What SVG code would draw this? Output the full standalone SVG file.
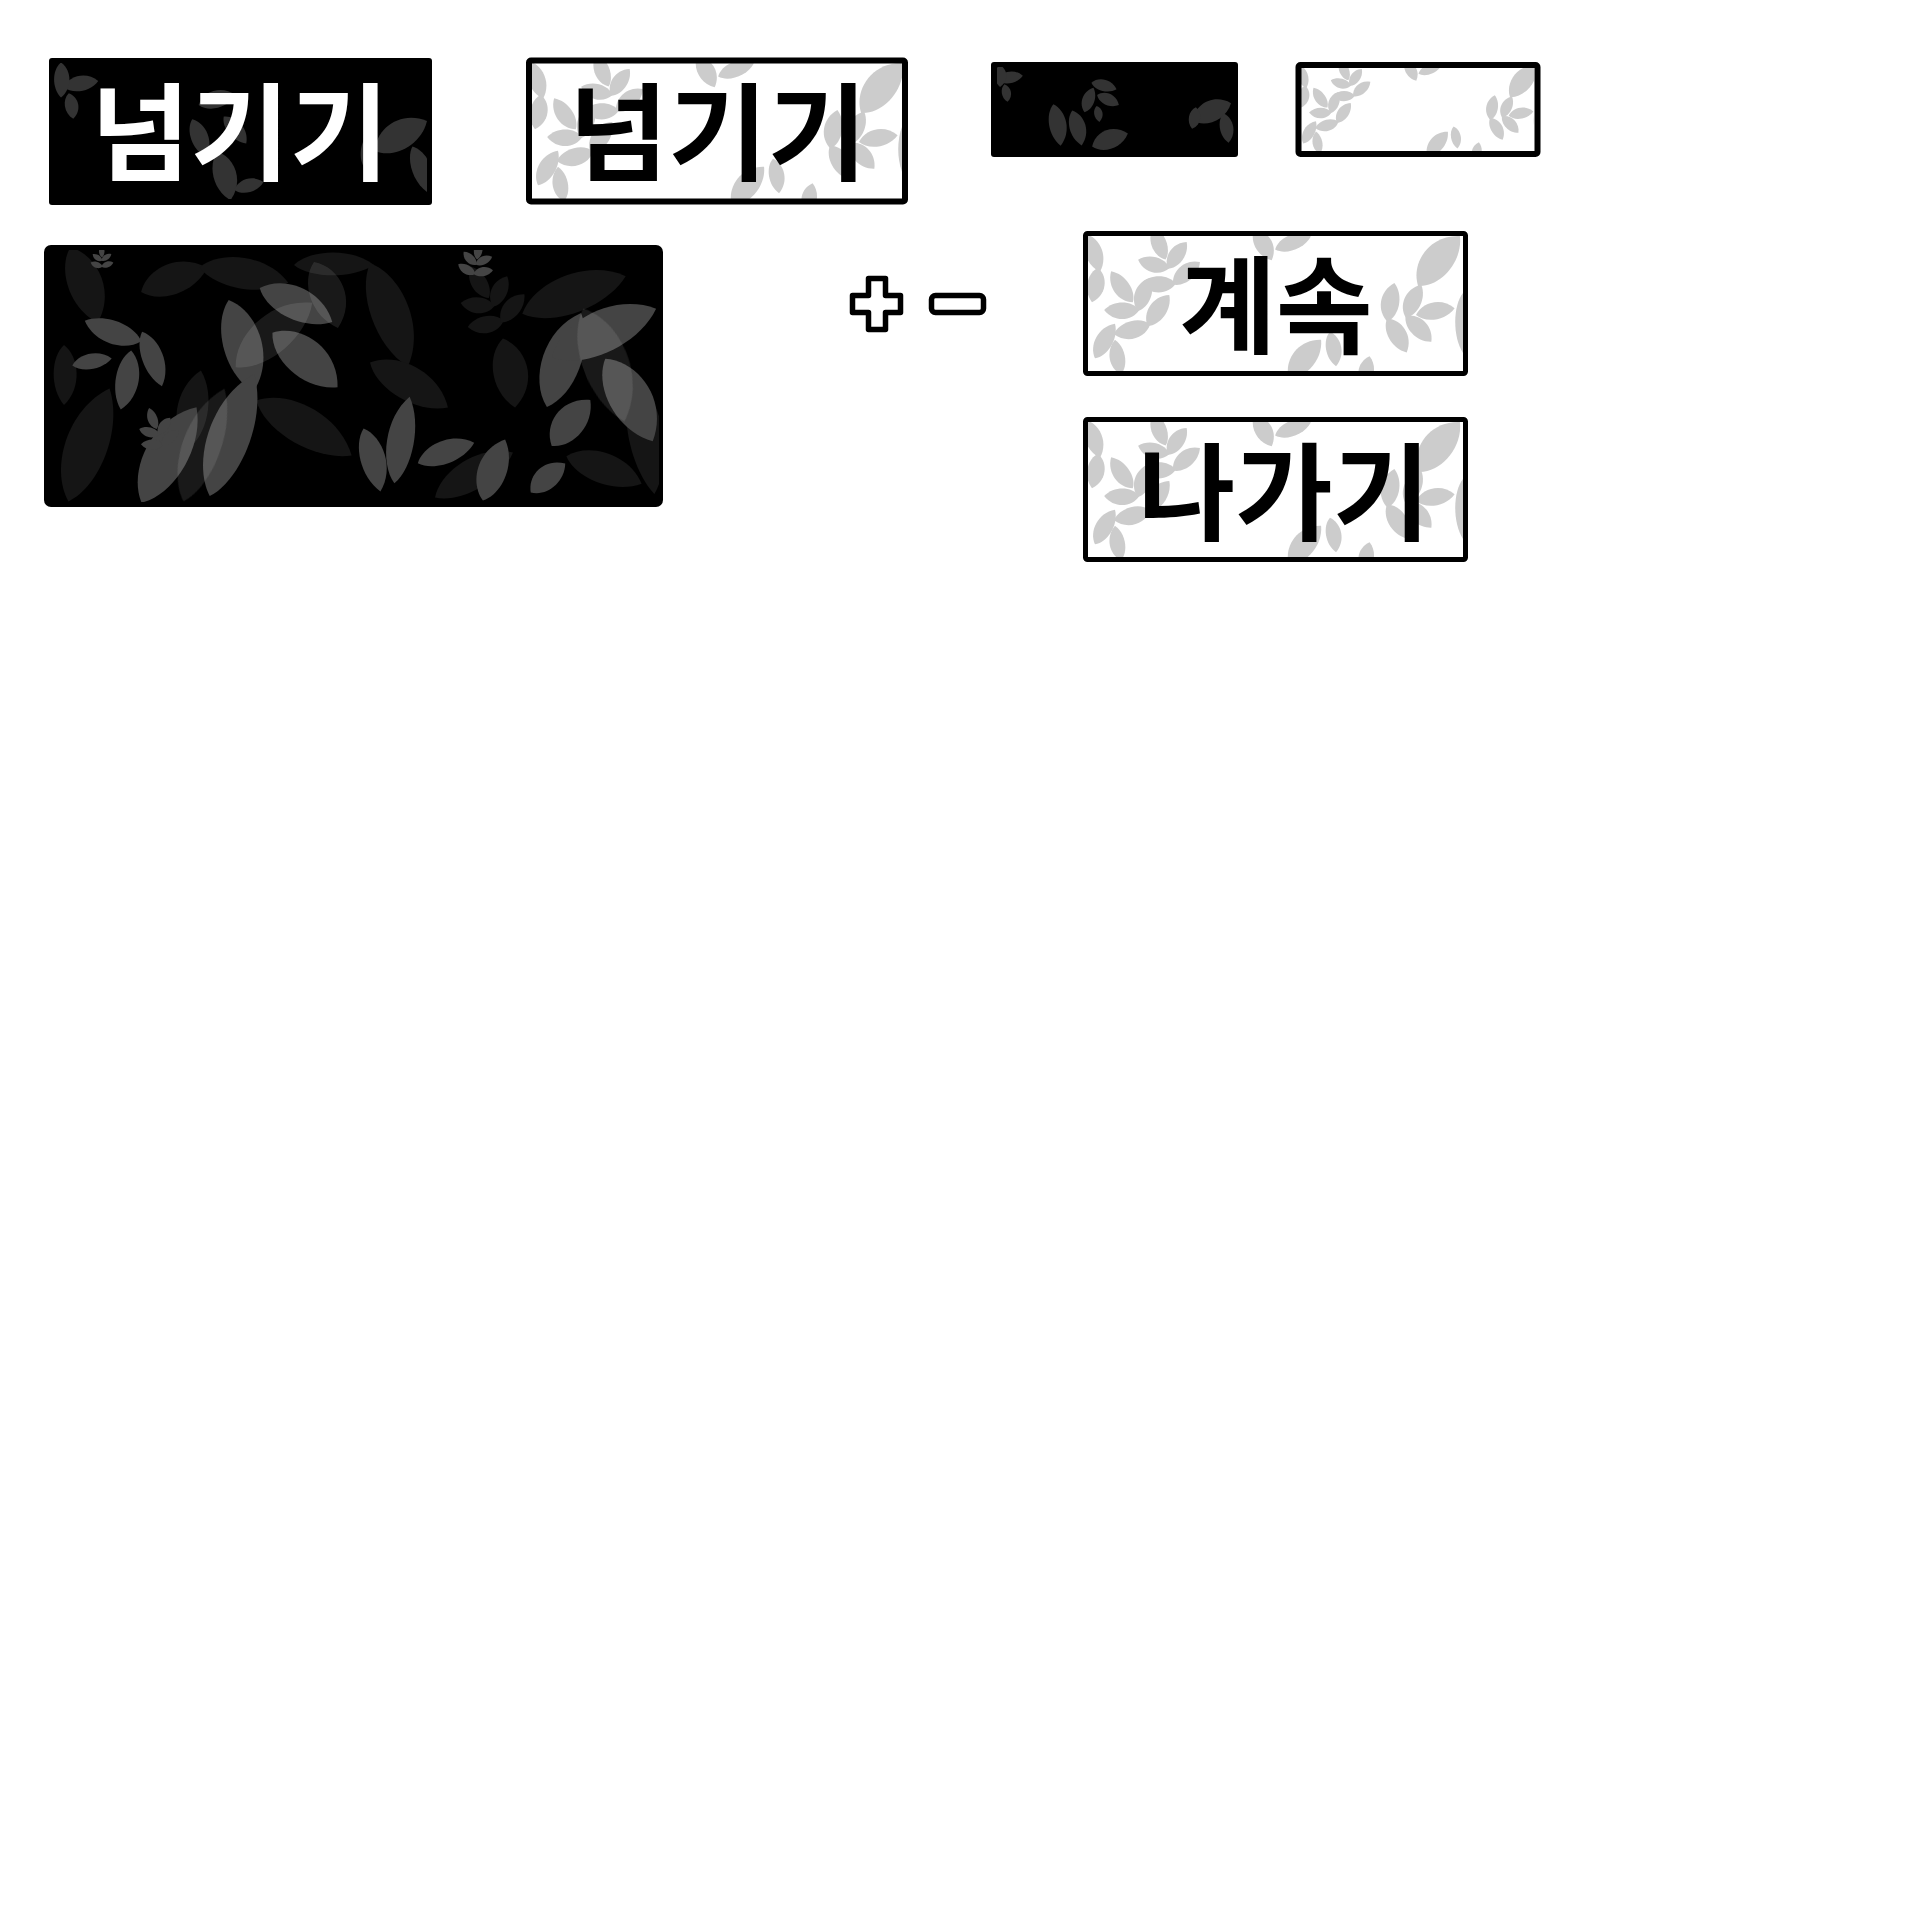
<svg xmlns="http://www.w3.org/2000/svg" width="1920" height="1920" viewBox="0 0 1920 1920">
<style>
.t{font-family:"Noto Sans CJK KR","Noto Sans CJK SC",sans-serif;font-weight:700;font-size:106px;text-anchor:middle}
.w{fill:#ffffff}
.k{fill:#000000}
.frame{fill:none;stroke:#000;stroke-width:6;stroke-linejoin:round}
.lg{fill:#cccccc}
.dg{fill:#333333}
.g4{fill:#444444}
.d1{fill:#151515}
.gh{fill:#ffffff;opacity:.1}
.icon{fill:#fff;stroke:#000;stroke-width:5.5;stroke-linejoin:round}
</style>
<defs>
<path id="lf" d="M-50,0 C-30,-26 22,-30 50,0 C22,24 -30,22 -50,0Z"/>
<g id="sp">
<use href="#lf" transform="translate(0,-22) rotate(-90) scale(.28,.32)"/>
<use href="#lf" transform="translate(-10,-8) rotate(-145) scale(.26,.32)"/>
<use href="#lf" transform="translate(10,-8) rotate(-35) scale(.26,.32)"/>
<use href="#lf" transform="translate(-12,8) rotate(-160) scale(.28,.34)"/>
<use href="#lf" transform="translate(12,8) rotate(-20) scale(.28,.34)"/>
</g>
<g id="wpat" class="lg">
<use href="#lf" transform="translate(10,22) rotate(70) scale(.4,.45)"/>
<use href="#lf" transform="translate(12,54) rotate(100) scale(.35,.45)"/>
<use href="#sp" transform="translate(86,38) rotate(-20) scale(1.25)"/>
<use href="#sp" transform="translate(56,80) rotate(-35) scale(1.35)"/>
<use href="#lf" transform="translate(22,110) rotate(-60) scale(.4,.45)"/>
<use href="#lf" transform="translate(35,126) rotate(-100) scale(.35,.4)"/>
<use href="#lf" transform="translate(180,14) rotate(60) scale(.35,.45)"/>
<use href="#lf" transform="translate(210,12) rotate(-20) scale(.38,.4)"/>
<use href="#lf" transform="translate(222,128) rotate(-50) scale(.5,.6)"/>
<use href="#lf" transform="translate(250,118) rotate(80) scale(.35,.4)"/>
<use href="#lf" transform="translate(284,140) rotate(-80) scale(.3,.4)"/>
<use href="#sp" transform="translate(322,86) rotate(80) scale(1.4)"/>
<use href="#lf" transform="translate(356,30) rotate(-50) scale(.65,.8)"/>
<use href="#lf" transform="translate(380,92) rotate(90) scale(.6,.45)"/>
</g>
<g id="bpat" class="dg">
<use href="#lf" transform="translate(32,26) rotate(-10) scale(.35,.4)"/>
<use href="#lf" transform="translate(12,22) rotate(90) scale(.35,.4)"/>
<use href="#lf" transform="translate(22,48) rotate(80) scale(.26,.35)"/>
<use href="#lf" transform="translate(168,42) rotate(-15) scale(.38,.45)"/>
<use href="#lf" transform="translate(150,80) rotate(70) scale(.4,.45)"/>
<use href="#lf" transform="translate(175,118) rotate(75) scale(.5,.6)"/>
<use href="#lf" transform="translate(200,128) rotate(-15) scale(.3,.35)"/>
<use href="#lf" transform="translate(186,72) rotate(50) scale(.35,.4)"/>
<use href="#lf" transform="translate(352,78) rotate(-30) scale(.6,.75)"/>
<use href="#lf" transform="translate(372,112) rotate(70) scale(.5,.5)"/>
<use href="#lf" transform="translate(318,92) rotate(100) scale(.35,.35)"/>
</g>
<clipPath id="c1"><rect x="54" y="63" width="373" height="136"/></clipPath>
<clipPath id="c2"><rect x="532" y="63" width="370" height="136"/></clipPath>
<clipPath id="c3"><rect x="997" y="67" width="237" height="85"/></clipPath>
<clipPath id="c4"><rect x="1301" y="68" width="233" height="83"/></clipPath>
<clipPath id="c5"><rect x="49" y="250" width="610" height="252"/></clipPath>
<clipPath id="c6"><rect x="1088" y="236" width="375" height="135"/></clipPath>
<clipPath id="c7"><rect x="1088" y="422" width="375" height="135"/></clipPath>
</defs>

<g id="skip-dark">
<rect class="k" x="49" y="58" width="383" height="147" rx="3"/>
<g clip-path="url(#c1)"><use href="#bpat" transform="translate(49,58)"/></g>
<text class="t w" transform="translate(240,172) scale(1.02,1)">넘기기</text>
</g>

<g id="skip-light">
<rect class="w" x="529" y="60.5" width="376" height="141"/>
<g clip-path="url(#c2)"><use href="#wpat" transform="translate(526,58)"/></g>
<rect class="frame" x="529" y="60.5" width="376" height="141" rx="2"/>
<text class="t k" transform="translate(718,172) scale(1.02,1)">넘기기</text>
</g>

<g id="small-dark">
<rect class="k" x="991" y="62" width="247" height="95" rx="3"/>
<g clip-path="url(#c3)" class="dg">
<use href="#lf" transform="translate(1010,78) rotate(-10) scale(.26,.3)"/>
<use href="#lf" transform="translate(1000,76) rotate(90) scale(.22,.3)"/>
<use href="#lf" transform="translate(1006,93) rotate(80) scale(.18,.24)"/>
<use href="#lf" transform="translate(1057,125) rotate(80) scale(.42,.45)"/>
<use href="#lf" transform="translate(1077,128) rotate(75) scale(.36,.42)"/>
<use href="#lf" transform="translate(1089,100) rotate(-70) scale(.26,.32)"/>
<use href="#lf" transform="translate(1104,86) rotate(15) scale(.26,.3)"/>
<use href="#lf" transform="translate(1108,100) rotate(25) scale(.24,.3)"/>
<use href="#lf" transform="translate(1098,114) rotate(80) scale(.16,.22)"/>
<use href="#lf" transform="translate(1110,140) rotate(-20) scale(.38,.5)"/>
<use href="#lf" transform="translate(1212,112) rotate(-25) scale(.42,.55)"/>
<use href="#lf" transform="translate(1226,128) rotate(80) scale(.3,.35)"/>
<use href="#lf" transform="translate(1194,118) rotate(100) scale(.22,.3)"/>
</g>
</g>

<g id="small-light">
<rect class="w" x="1298.5" y="65" width="239" height="89"/>
<g clip-path="url(#c4)"><use href="#wpat" transform="translate(1295.5,62) scale(0.64)"/></g>
<rect class="frame" x="1298.5" y="65" width="239" height="89" rx="2"/>
</g>

<g id="panel">
<rect class="k" x="44" y="245" width="619" height="262" rx="7"/>
<g clip-path="url(#c5)">
<g transform="translate(44,245)">
<g class="d1">
<use href="#lf" transform="translate(40,40) rotate(70) scale(.8,.9)"/>
<use href="#lf" transform="translate(130,35) rotate(-20) scale(.7,.8)"/>
<use href="#lf" transform="translate(200,30) rotate(10) scale(.9,.8)"/>
<use href="#lf" transform="translate(290,20) rotate(0) scale(.8,.6)"/>
<use href="#lf" transform="translate(345,70) rotate(70) scale(1.1,1)"/>
<use href="#lf" transform="translate(365,140) rotate(30) scale(.9,.9)"/>
<use href="#lf" transform="translate(465,128) rotate(80) scale(.7,.9)"/>
<use href="#lf" transform="translate(530,50) rotate(-20) scale(1.1,1)"/>
<use href="#lf" transform="translate(600,190) rotate(80) scale(1.2,.9)"/>
<use href="#lf" transform="translate(260,183) rotate(30) scale(1.1,1)"/>
<use href="#lf" transform="translate(45,200) rotate(-70) scale(1.2,1.1)"/>
<use href="#lf" transform="translate(430,230) rotate(-30) scale(.9,.8)"/>
<use href="#lf" transform="translate(150,165) rotate(-80) scale(.8,.8)"/>
<use href="#lf" transform="translate(560,225) rotate(20) scale(.8,.8)"/>
<use href="#lf" transform="translate(20,130) rotate(90) scale(.6,.6)"/>
<use href="#sp" transform="translate(450,62) rotate(-30) scale(1.3)"/>
</g>
<g class="g4">
<use href="#lf" transform="translate(69,86) rotate(-160) scale(.6,.6)"/>
<use href="#lf" transform="translate(48,117) rotate(-10) scale(.4,.4)"/>
<use href="#lf" transform="translate(82,135) rotate(100) scale(.6,.6)"/>
<use href="#lf" transform="translate(108,114) rotate(70) scale(.58,.55)"/>
<use href="#lf" transform="translate(197,101) rotate(75) scale(.95,1)"/>
<use href="#lf" transform="translate(252,60) rotate(25) scale(.8,.85)"/>
<use href="#lf" transform="translate(261,115) rotate(40) scale(.85,1)"/>
<use href="#lf" transform="translate(125,210) rotate(-60) scale(1.1,1.1)"/>
<use href="#lf" transform="translate(188,190) rotate(-70) scale(1.3,1.1)"/>
<use href="#lf" transform="translate(328,215) rotate(75) scale(.65,.65)"/>
<use href="#lf" transform="translate(358,195) rotate(-80) scale(.88,.7)"/>
<use href="#lf" transform="translate(402,208) rotate(-20) scale(.6,.6)"/>
<use href="#lf" transform="translate(450,225) rotate(-70) scale(.65,.75)"/>
<use href="#lf" transform="translate(520,115) rotate(-70) scale(1,1)"/>
<use href="#lf" transform="translate(560,88) rotate(-25) scale(1.15,1.1)"/>
<use href="#lf" transform="translate(585,155) rotate(60) scale(.95,1.1)"/>
<use href="#lf" transform="translate(527,178) rotate(-50) scale(.6,.8)"/>
<use href="#lf" transform="translate(504,233) rotate(-40) scale(.45,.6)"/>
<use href="#sp" transform="translate(432,20) rotate(10) scale(.7)"/>
<use href="#sp" transform="translate(115,190) rotate(-20) scale(.8)"/>
<use href="#sp" transform="translate(58,16) scale(.45)"/>
</g>
<g class="gh">
<use href="#lf" transform="translate(282,50) rotate(70) scale(.7,.9)"/>
<use href="#lf" transform="translate(230,90) rotate(-40) scale(1,1)"/>
<use href="#lf" transform="translate(560,120) rotate(70) scale(1.2,1.2)"/>
<use href="#lf" transform="translate(160,200) rotate(-70) scale(1.2,1)"/>
</g>
</g>
</g>
</g>

<g id="zoom-controls">
<path class="icon" d="M868.5,278.5 H885.5 V295.5 H900.5 V312.5 H885.5 V329.5 H868.5 V312.5 H852.5 V295.5 H868.5 Z"/>
<rect class="icon" x="931.5" y="295.5" width="52" height="17" rx="4"/>
</g>

<g id="continue">
<rect class="w" x="1085.5" y="233.5" width="380" height="140"/>
<g clip-path="url(#c6)"><use href="#wpat" transform="translate(1083,231)"/></g>
<rect class="frame" x="1085.5" y="233.5" width="380" height="140" rx="2" style="stroke-width:5"/>
<text class="t k" transform="translate(1276,345) scale(0.99,1)">계속</text>
</g>

<g id="exit">
<rect class="w" x="1085.5" y="419.5" width="380" height="140"/>
<g clip-path="url(#c7)"><use href="#wpat" transform="translate(1083,417)"/></g>
<rect class="frame" x="1085.5" y="419.5" width="380" height="140" rx="2" style="stroke-width:5"/>
<text class="t k" transform="translate(1284,532) scale(1,1)">나가기</text>
</g>

<g id="connectors"></g>
</svg>
